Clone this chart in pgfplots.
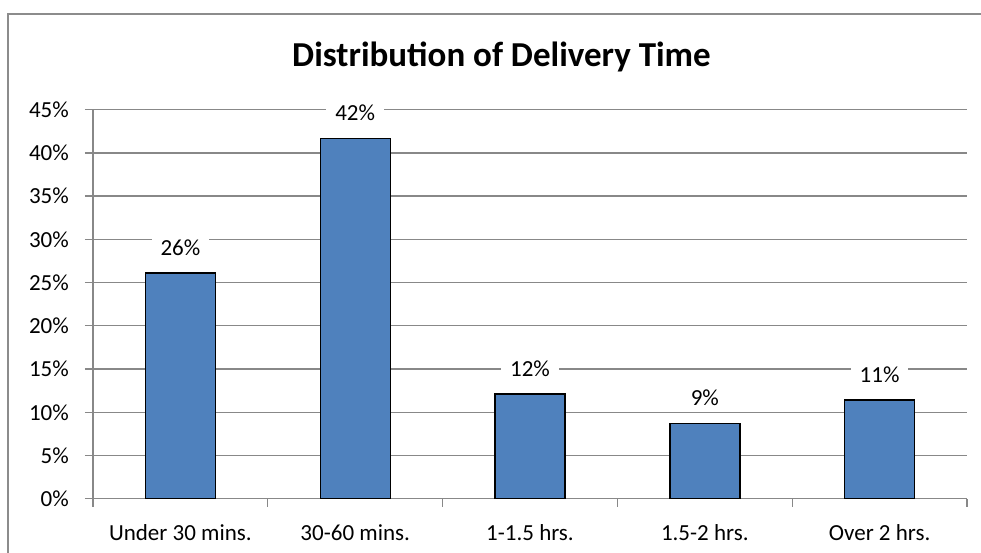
\documentclass[border=0pt]{standalone}
\usepackage{pgfplots}
\pgfplotsset{compat=1.18}
\usepackage{fontspec}
\setmainfont{Carlito}
\definecolor{barblue}{HTML}{4F81BD}
\definecolor{gridgray}{HTML}{888888}
\definecolor{bordergray}{HTML}{8C8C8C}
\begin{document}
\begin{tikzpicture}[x=1pt,y=1pt]
\useasboundingbox (0,0) rectangle (981,553);
\draw[bordergray, line width=1.5pt] (8,-20) -- (8,539) -- (1000,539);
\node[font=\fontsize{35}{41}\selectfont\bfseries, anchor=base west, inner sep=0pt] at (292,486) {Distribution of Delivery Time};
\begin{axis}[
  at={(93pt,54.3pt)}, anchor=south west,
  scale only axis, width=874pt, height=389pt,
  xmin=-0.5, xmax=4.5, ymin=0, ymax=45,
  enlargelimits=false, clip=false,
  axis x line=bottom, axis y line=left,
  axis line style={draw=gridgray, line width=1.3pt, -},
  ytick={0,5,...,45},
  yticklabels={0\%,5\%,10\%,15\%,20\%,25\%,30\%,35\%,40\%,45\%},
  xtick={0,1,2,3,4},
  xticklabels={Under 30 mins.,30-60 mins.,1-1.5 hrs.,1.5-2 hrs.,Over 2 hrs.},
  minor xtick={-0.5,0.5,1.5,2.5,3.5,4.5},
  tick align=outside,
  major tick length=8pt, minor tick length=8pt,
  major x tick style={draw=none},
  tick style={draw=gridgray, line width=1.3pt},
  ymajorgrids, grid style={draw=gridgray, line width=1.3pt},
  ticklabel style={font=\fontsize{23}{27}\selectfont},
  yticklabel style={anchor=east, inner sep=0pt, xshift=-16pt},
  xticklabel style={anchor=base, inner sep=0pt, yshift=-34pt},
  ybar, bar width=70pt,
  point meta=explicit symbolic,
  nodes near coords={\pgfplotspointmeta},
  every node near coord/.append style={font=\fontsize{23}{27}\selectfont, fill=white, anchor=base, yshift=18pt, inner xsep=9pt, inner ysep=3pt},
]
\addplot[fill=barblue, draw=black, line width=1.4pt] coordinates {
  (0,26.1) [26\%]
  (1,41.7) [42\%]
  (2,12.1) [12\%]
  (3,8.7) [9\%]
  (4,11.4) [11\%]
};
\end{axis}
\end{tikzpicture}
\end{document}
